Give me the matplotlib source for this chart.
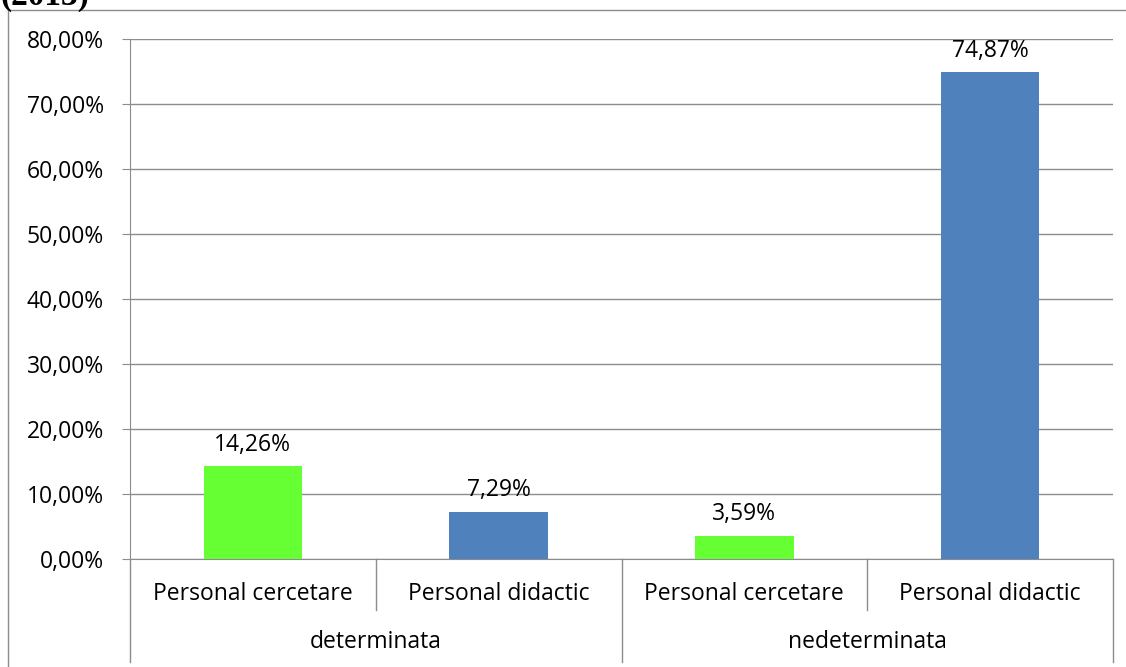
import matplotlib.pyplot as plt
from matplotlib.lines import Line2D
from matplotlib.ticker import FuncFormatter
import matplotlib.transforms as mtransforms

# data
groups = ["determinata", "nedeterminata"]
staff = ["Personal cercetare", "Personal didactic", "Personal cercetare", "Personal didactic"]
values = [0.1426, 0.0729, 0.0359, 0.7487]
colors = ["#66FF33", "#4F81BD", "#66FF33", "#4F81BD"]

plt.rcParams["font.family"] = ["Open Sans", "DejaVu Sans"]
grey = "#8C8C8C"
fs = 16.5

fig = plt.figure(figsize=(11.26, 6.67), dpi=100)
W, H = 1126, 667
ax = fig.add_axes([130 / W, 1 - 559 / H, (1113 - 130) / W, 520 / H])

x = list(range(len(values)))
ax.bar(x, values, width=0.4, color=colors, zorder=3)
for xi, v in zip(x, values):
    ax.annotate(f"{v*100:.2f}%".replace(".", ","), (xi, v), xytext=(0, 7),
                textcoords="offset points", ha="center", va="bottom", fontsize=fs)

ax.set_xlim(-0.5, 3.5)
ax.set_ylim(0, 0.8)
ax.set_yticks([i / 10 for i in range(9)])
ax.yaxis.set_major_formatter(FuncFormatter(lambda v, p: f"{v*100:.2f}%".replace(".", ",")))
ax.tick_params(axis="y", length=5.8, color=grey, pad=13, labelsize=fs)
ax.set_xticks([])
ax.grid(axis="y", color=grey, linewidth=1, zorder=0)
for s in ["top", "right"]:
    ax.spines[s].set_visible(False)
ax.spines["left"].set_color(grey)
ax.spines["bottom"].set_color(grey)

# category axis separators and labels
tr = mtransforms.blended_transform_factory(ax.transData, ax.transAxes)
for sx in [-0.5, 1.5, 3.5]:
    ax.add_line(Line2D([sx, sx], [0, -103 / 520], transform=tr, color=grey, lw=1, clip_on=False))
for sx in [0.5, 2.5]:
    ax.add_line(Line2D([sx, sx], [0, -51 / 520], transform=tr, color=grey, lw=1, clip_on=False))
for xi, lab in zip(x, staff):
    ax.text(xi, -35 / 520, lab, transform=tr, ha="center", va="center", fontsize=fs)
for gi, g in enumerate(groups):
    ax.text(gi * 2 + 0.5, -83 / 520, g, transform=tr, ha="center", va="center", fontsize=fs)

# outer frame and cropped heading
fig.add_artist(Line2D([8 / W, 8 / W], [0, 1 - 10 / H], transform=fig.transFigure, color=grey, lw=1))
fig.add_artist(Line2D([8 / W, 1], [1 - 10 / H, 1 - 10 / H], transform=fig.transFigure, color=grey, lw=1))
fig.text(0, 1 - 5 / H, "(2013)", fontsize=24, fontweight="bold",
         family="Liberation Serif", va="baseline", ha="left")

fig.savefig("out.png", dpi=100)
